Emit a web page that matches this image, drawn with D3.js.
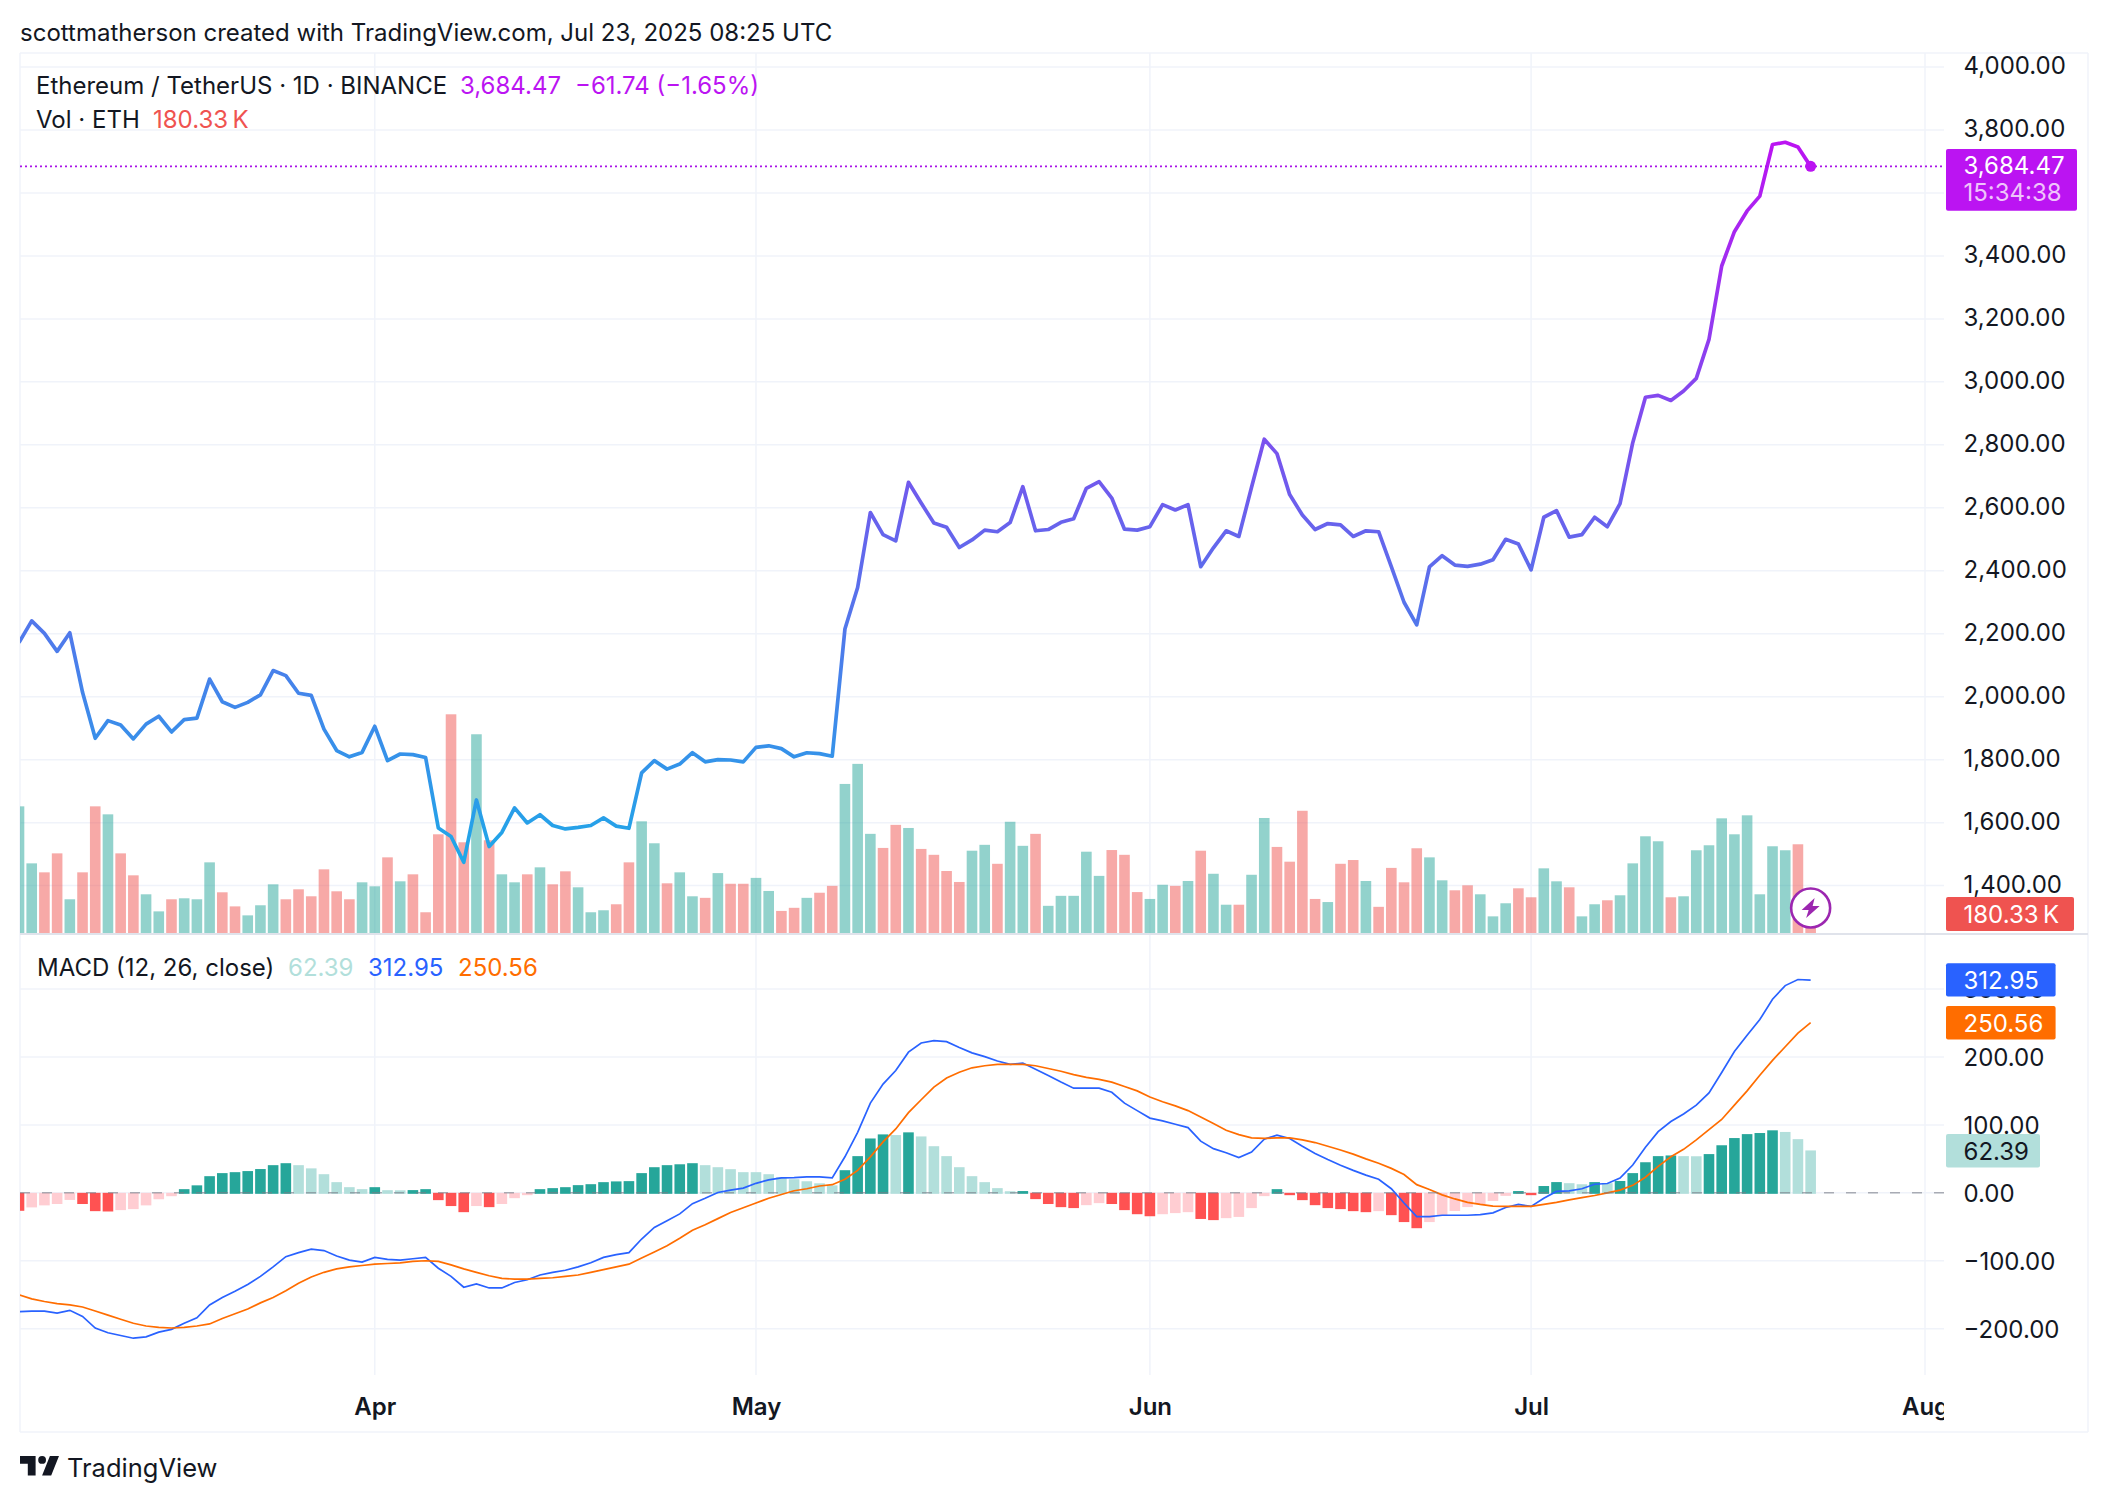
<!DOCTYPE html>
<meta charset="utf-8">
<html>
<head>
    <title>ETH / USDT</title>
    <script src="https://cdn.jsdelivr.net/npm/d3@7"></script>
    <style>
        html, body { margin:0; padding:0; background:#fff; }
        svg { display:block; }
        text { font-family:Inter, "Noto Sans", sans-serif; fill:#131722; }
    </style>
</head>
<body>
<div id="chart"></div>
<script>

// daily closes, 4 Mar to 23 Jul 2025
var closes = [2172,2241,2201,2144,2203,2014,1868,1924,1910,1866,1913,1938,1888,1927,1932,2056,1984,1966,1982,2006,
    2083,2067,2011,2004,1897,1829,1809,1823,1906,1797,1818,1816,1807,1583,1556,1474,1672,1524,1569,1647,
    1599,1625,1591,1580,1585,1591,1615,1589,1582,1758,1797,1770,1786,1822,1793,1800,1799,1793,1839,1844,
    1835,1809,1822,1819,1811,2215,2347,2585,2515,2495,2681,2615,2552,2538,2474,2498,2529,2524,2553,2667,
    2527,2531,2554,2565,2662,2683,2631,2532,2529,2540,2610,2593,2610,2413,2473,2527,2509,2665,2818,2772,
    2642,2577,2531,2550,2546,2509,2527,2524,2413,2300,2228,2412,2448,2418,2414,2421,2435,2500,2485,2403,
    2570,2591,2507,2515,2570,2540,2613,2807,2951,2957,2941,2971,3011,3135,3368,3477,3543,3590,3754,3761,
    3746.21,3684.47]

// volume in thousands of ETH
var volumes = [1142,628,547,718,304,547,1142,1070,718,520,349,195,304,313,304,637,367,240,159,250,
    439,304,394,331,574,376,304,457,421,682,466,529,187,890,1972,818,1792,836,529,457,
    529,592,439,556,412,187,205,259,637,1007,809,448,547,331,317,540,444,444,497,379,
    199,227,317,363,425,1344,1525,894,767,975,947,758,705,559,460,742,795,624,1003,786,
    894,245,335,335,733,515,748,705,369,307,435,425,469,742,534,255,255,525,1037,776,
    643,1102,307,279,624,658,469,236,587,457,764,682,475,385,430,349,150,268,403,322,
    583,466,412,150,259,295,340,628,872,827,322,331,746,791,1034,890,1061,349,782,746,
    800,180.33]

var macdLine = [-175,-174,-174,-177,-173,-182,-199,-206,-210,-214,-212,-205,-201,-192,-184,-165,-154,-145,-135,-123,
    -109,-94,-88,-83,-85,-93,-99,-102,-95,-98,-99,-97,-95,-111,-123,-139,-134,-140,-140,-132,
    -128,-121,-117,-114,-109,-103,-95,-91,-88,-68,-51,-41,-31,-16,-8,0.5,4,7,14,19,
    22,22.5,23.5,23.5,22,53,89,132,160,180,207,220.5,224,222.5,214,206,200.5,194,189,191,
    182,172.6,163,154,154,154,148,132,121,110,106,101,96,76,65,59,52,60,79,85,
    80,68.5,58,49,40.6,33,26,20,6,-15,-35,-35,-33,-33,-33,-32,-29.5,-21.6,-17,-20,
    -8,2,3,6,12.6,13.7,21.6,41,67,90,105,116,129,147,177,208,232,255,285,305,
    314,312.95]

var signalLine = [-150,-156,-160,-163,-165,-168,-174,-180,-186,-192,-196,-198,-199,-198,-196,-193,-185,-178,-171,-162,
    -154,-144,-133,-124,-117,-112,-109,-107,-105,-104,-103,-101,-100,-101,-106,-112,-117,-122,-126,-127,
    -127,-126,-125,-123,-121,-117,-113,-109,-105,-96,-87,-78,-67,-55,-47,-38,-29,-22,-15,-8,
    -2.5,3,6,10,12,20,33,53,75,94,118,137,155.5,169,177.5,184,187,189,189,189,
    187,183,179,174,170,167,163,156.5,150,141,134,128,121,111.5,102,92,85.6,81,80,81,
    81,78,74,68.5,63,57,50,43.5,36,27,12,5,-3,-9,-14,-17,-19.5,-20,-20,-20,
    -17,-14,-10.5,-7,-4,0,4,11,23,39,53,64,78,93,108,129,150,173,195,215,
    235,250.56]

var histogram = [-25,-20,-17,-15,-9,-15,-25.5,-26,-24,-22.5,-17,-8,-3.5,5.4,11,24.5,29,30.4,32,35,
    40.7,43.6,40.7,36,27.4,15.7,8.3,5.4,8.3,3.9,3.7,4,5.4,-9.3,-18,-27,-18,-19.6,-15,-6.4,
    -2,5.4,6.9,8.3,11.3,12.7,15.7,16.8,17.2,29,37.7,40.7,42,43.6,40.7,37.7,34.8,30.4,30.4,27.4,
    23,20,17,14,11,33.3,54,80,86,85,89,83,68.6,54,37.7,24.5,15.7,6.9,2.3,2.6,
    -7.8,-15,-19.6,-21,-16.7,-13.7,-15,-24,-30,-33,-30,-28.4,-27,-37,-38.7,-35.8,-34,-21,-3.4,5.4,
    -2,-9.3,-16.7,-21,-22.5,-25.5,-27,-25.5,-31.4,-41.6,-50.6,-41.6,-32.7,-25.3,-19.5,-15,-10.5,-3,2.6,-2,
    10,15.8,14.2,12.6,15.8,14.2,17.4,29,45,54,55,54,53.8,57,70,80.6,86.4,88,92,89.6,
    79,62.39]

var priceTicks = [1400,1600,1800,2000,2200,2400,2600,2800,3000,3200,3400,3600,3800,4000]
var macdTicks = [-200,-100,0,100,200,300]
var monthTicks = [new Date(Date.UTC(2025,3,1)), new Date(Date.UTC(2025,4,1)), new Date(Date.UTC(2025,5,1)),
    new Date(Date.UTC(2025,6,1)), new Date(Date.UTC(2025,7,1))]

var firstDay = new Date(Date.UTC(2025,2,4))
var days = d3.utcDay.range(firstDay, new Date(Date.UTC(2025,6,24)))

var W = 2108, H = 1502
var left = 20, plotRight = 1944, frameRight = 2088, frameTop = 53, frameBottom = 1432
var paneBreak = 934, paneBottom = 1375
var gridColor = '#f0f3fa'
var fontPx = 24

var svg = d3.select('#chart').append('svg').attr('width', W).attr('height', H)

var x = d3.scaleUtc().domain([firstDay, monthTicks[4]]).range([19, 1925])
var yPrice = d3.scaleLinear().domain([1400, 3800]).range([885.6, 130])
var yVol = d3.scaleLinear().domain([0, 1972]).range([933, 714.3])
var yMacd = d3.scaleLinear().domain([-200, 300]).range([1328.7, 989])

var defs = svg.append('defs')
defs.append('clipPath').attr('id', 'plot').append('rect')
    .attr('x', left).attr('y', frameTop).attr('width', plotRight - left).attr('height', paneBottom - frameTop)
defs.append('clipPath').attr('id', 'axisClip').append('rect')
    .attr('x', left).attr('y', paneBottom).attr('width', plotRight - left).attr('height', frameBottom - paneBottom)

var grad = defs.append('linearGradient').attr('id', 'priceGrad').attr('gradientUnits', 'userSpaceOnUse')
    .attr('x1', 0).attr('x2', 0).attr('y1', yPrice(d3.max(closes))).attr('y2', yPrice(d3.min(closes)))
grad.append('stop').attr('offset', 0).attr('stop-color', '#bb14f2')
grad.append('stop').attr('offset', 1).attr('stop-color', '#1ea8e8')

// frame and grid
var grid = svg.append('g').attr('stroke', gridColor).attr('stroke-width', 1.5)
grid.selectAll('.price').data(priceTicks).enter().append('line')
    .attr('x1', left).attr('x2', plotRight).attr('y1', yPrice).attr('y2', yPrice)
grid.selectAll('.macd').data(macdTicks).enter().append('line')
    .attr('x1', left).attr('x2', plotRight).attr('y1', yMacd).attr('y2', yMacd)
grid.selectAll('.month').data(monthTicks).enter().append('line')
    .attr('x1', x).attr('x2', x).attr('y1', frameTop).attr('y2', paneBottom)
grid.append('line').attr('x1', left).attr('x2', left).attr('y1', frameTop).attr('y2', frameBottom)
grid.append('line').attr('x1', frameRight).attr('x2', frameRight).attr('y1', frameTop).attr('y2', frameBottom)
grid.append('line').attr('x1', left).attr('x2', frameRight).attr('y1', frameTop).attr('y2', frameTop)
grid.append('line').attr('x1', left).attr('x2', frameRight).attr('y1', frameBottom).attr('y2', frameBottom)
svg.append('line').attr('x1', left).attr('x2', frameRight).attr('y1', paneBreak).attr('y2', paneBreak)
    .attr('stroke', '#e0e3eb').attr('stroke-width', 2)

var plot = svg.append('g').attr('clip-path', 'url(#plot)')
var barW = 10.6

// volume
plot.selectAll('.vol').data(volumes).enter().append('rect')
    .attr('x', function(d, i){ return x(days[i]) - barW / 2 })
    .attr('width', barW)
    .attr('y', yVol)
    .attr('height', function(d){ return yVol(0) - yVol(d) })
    .attr('fill', function(d, i){ return i == 0 || closes[i] >= closes[i - 1] ? '#26a69a' : '#ef5350' })
    .attr('fill-opacity', 0.5)

// histogram
plot.selectAll('.hist').data(histogram).enter().append('rect')
    .attr('x', function(d, i){ return x(days[i]) - barW / 2 })
    .attr('width', barW)
    .attr('y', function(d){ return yMacd(Math.max(d, 0)) })
    .attr('height', function(d){ return Math.abs(yMacd(d) - yMacd(0)) + 1 })
    .attr('fill', function(d, i){
        var prev = i == 0 ? null : histogram[i - 1]
        if (d >= 0) return prev === null || d > prev ? '#26a69a' : '#b2dfdb'
        return prev === null || d < prev ? '#ff5252' : '#ffcdd2'
    })

// zero line
svg.append('line').attr('x1', left).attr('x2', plotRight).attr('y1', yMacd(0)).attr('y2', yMacd(0))
    .attr('stroke', '#787b86').attr('stroke-opacity', 0.6).attr('stroke-width', 1.5).attr('stroke-dasharray', '10 12')

var macdPath = d3.line().x(function(d, i){ return x(days[i]) }).y(function(d){ return yMacd(d) })
plot.append('path').attr('d', macdPath(macdLine)).attr('fill', 'none').attr('stroke', '#2962ff').attr('stroke-width', 1.7)
plot.append('path').attr('d', macdPath(signalLine)).attr('fill', 'none').attr('stroke', '#ff6d00').attr('stroke-width', 1.7)

// price
var lastPrice = closes[closes.length - 1]
svg.append('line').attr('x1', left).attr('x2', plotRight).attr('y1', yPrice(lastPrice)).attr('y2', yPrice(lastPrice))
    .attr('stroke', '#a912e8').attr('stroke-width', 1.6).attr('stroke-dasharray', '2 3')

var pricePath = d3.line().x(function(d, i){ return x(days[i]) }).y(function(d){ return yPrice(d) })
plot.append('path').attr('d', pricePath(closes)).attr('fill', 'none')
    .attr('stroke', 'url(#priceGrad)').attr('stroke-width', 3.7).attr('stroke-linejoin', 'round')
svg.append('circle').attr('cx', x(days[141])).attr('cy', yPrice(lastPrice)).attr('r', 5.5).attr('fill', '#bb14f2')

// price and macd axes
var axisX = 1963.5
function drawAxis(axis){
    axis.call(function(g){ g.select('.domain').remove() })
    axis.selectAll('text').attr('font-family', null).style('font-size', fontPx + 'px').attr('fill', null)
}
svg.append('g').attr('transform', 'translate(' + axisX + ',-1)')
    .call(d3.axisRight(yPrice).tickValues(priceTicks).tickFormat(d3.format(',.2f')).tickSize(0).tickPadding(0))
    .call(drawAxis)
svg.append('g').attr('transform', 'translate(' + axisX + ',1)')
    .call(d3.axisRight(yMacd).tickValues(macdTicks).tickFormat(d3.format('.2f')).tickSize(0).tickPadding(0))
    .call(drawAxis)

// time axis
svg.append('g').attr('clip-path', 'url(#axisClip)').append('g').attr('transform', 'translate(0,1406)')
    .call(d3.axisBottom(x).tickValues(monthTicks).tickFormat(d3.utcFormat('%b')).tickSize(0).tickPadding(0))
    .call(function(g){
        g.select('.domain').remove()
        g.selectAll('text').attr('dy', '0.36em').attr('y', 0).style('font-size', fontPx + 'px').style('font-weight', 600)
    })

// value labels on the axis
function valueBox(y0, y1, x1, color, lines){
    svg.append('rect').attr('x', 1946).attr('y', y0).attr('width', x1 - 1946).attr('height', y1 - y0)
        .attr('rx', 2).attr('fill', color)
    lines.forEach(function(l){
        svg.append('text').attr('x', axisX).attr('y', l.y).attr('dy', '0.36em')
            .style('font-size', fontPx + 'px').style('fill', l.color).text(l.text)
    })
}
valueBox(149, 210.7, 2077, '#bb14f2', [
    {y: 165, color: '#fff', text: '3,684.47'},
    {y: 192, color: '#efc4fb', text: '15:34:38'}
])
valueBox(897, 931, 2074, '#ef5350', [{y: 914, color: '#fff', text: '180.33\u2009K'}])
valueBox(963.3, 996.6, 2055.6, '#2962ff', [{y: 980, color: '#fff', text: '312.95'}])
valueBox(1006, 1039.6, 2055.6, '#ff6d00', [{y: 1023, color: '#fff', text: '250.56'}])
valueBox(1134, 1167.6, 2040, '#b2dfdb', [{y: 1151, color: '#131722', text: '62.39'}])

// bolt badge on the last volume bar
var badge = svg.append('g').attr('transform', 'translate(' + x(days[141]) + ',908)')
badge.append('circle').attr('r', 19.5).attr('fill', '#fff').attr('stroke', '#9c27b0').attr('stroke-width', 2.6)
badge.append('path').attr('d', 'M4,-10 L-9,2 L-2,2 L-4.5,10 L9,-2 L2,-2 Z').attr('fill', '#9c27b0')

// legends
function label(px, py, txt, color, size){
    svg.append('text').attr('x', px).attr('y', py).attr('dy', '0.36em')
        .style('font-size', (size || fontPx) + 'px').style('fill', color || '#131722').text(txt)
}
label(20, 32, 'scottmatherson created with TradingView.com, Jul 23, 2025 08:25 UTC')
label(36, 85, 'Ethereum / TetherUS · 1D · BINANCE')
label(460, 85, '3,684.47', '#bb14f2')
label(575, 85, '−61.74 (−1.65%)', '#bb14f2')
label(36, 119, 'Vol · ETH')
label(153, 119, '180.33\u2009K', '#ef5350')
label(37, 967, 'MACD (12, 26, close)')
label(288, 967, '62.39', '#b2dfdb')
label(368, 967, '312.95', '#2962ff')
label(458, 967, '250.56', '#ff6d00')

// TradingView mark
svg.append('path').attr('transform', 'translate(17.4,1448.2) scale(1.3)')
    .attr('d', 'M14 6H2v6h6v9h6V6Zm12 15h-7l6-15h7l-6 15Zm-7-9a3 3 0 1 0 0-6 3 3 0 0 0 0 6Z').attr('fill', '#131722')
label(67, 1468, 'TradingView', '#131722', 25.5)

</script>
</body>
</html>
